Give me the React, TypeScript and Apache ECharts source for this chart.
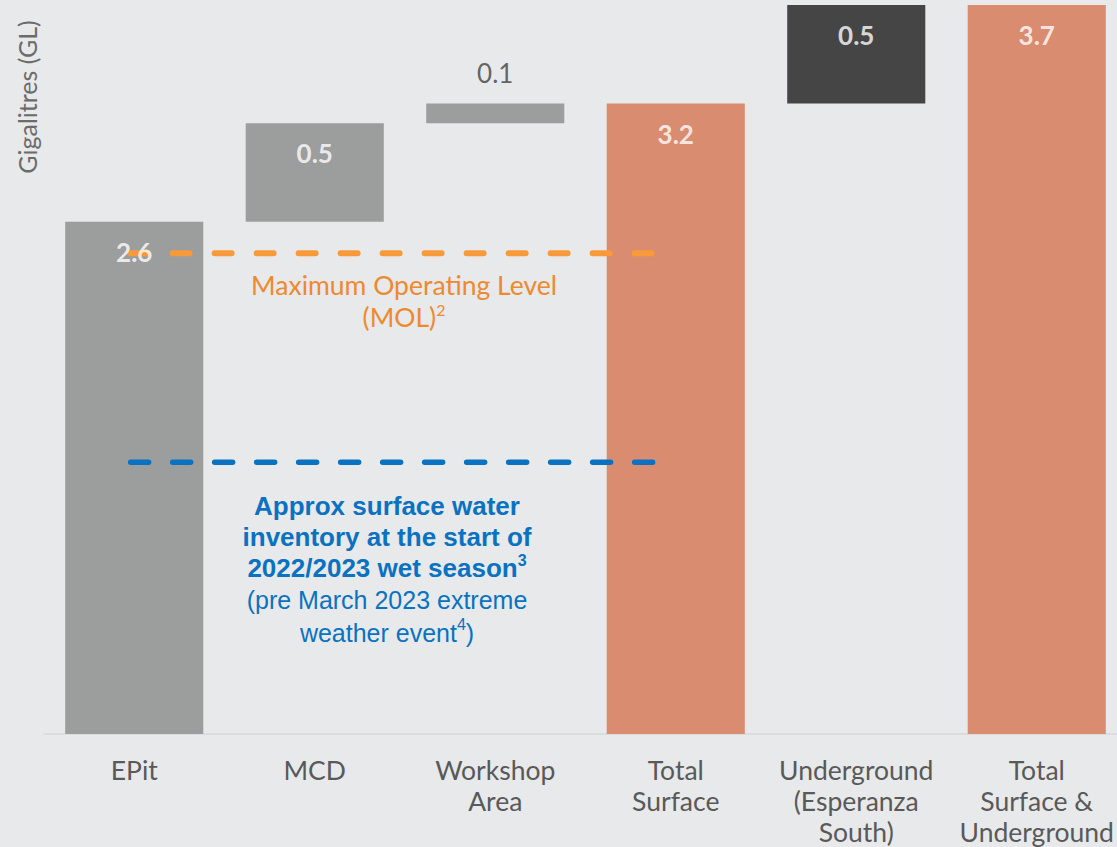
import React, { useEffect, useRef } from "react";
import * as echarts from "echarts";

const categories = [
  "EPit",
  "MCD",
  "Workshop\nArea",
  "Total\nSurface",
  "Underground\n(Esperanza\nSouth)",
  "Total\nSurface &\nUnderground",
];
const values = [2.6, 0.5, 0.1, 3.2, 0.5, 3.7];
const bases = [0, 2.6, 3.1, 0, 3.2, 0];
const barColors = ["#9c9d9d", "#9c9d9d", "#9c9d9d", "#d98c6f", "#454545", "#d98c6f"];
const labelOutside = [false, false, true, false, false, false];
const molLevel = 2.44;
const inventoryLevel = 1.38;
const lineSpan = [0.48, 3.42];

export default function App() {
  const ref = useRef<HTMLDivElement>(null);
  useEffect(() => {
    if (!ref.current) return;
    const chart = echarts.init(ref.current, null, { renderer: "svg" });
    const tops = values.map((v, i) => v + bases[i]);
    chart.setOption({
      animation: false,
      backgroundColor: "#e8e9ea",
      grid: { left: 44, right: 0, top: 0, bottom: 113 },
      xAxis: [
        {
          type: "category",
          data: categories,
          axisLine: { lineStyle: { color: "#d6d7d8", width: 1.5 } },
          axisTick: { show: false },
          axisLabel: {
            color: "#595959",
            fontFamily: "Lato",
            fontSize: 26.5,
            lineHeight: 31,
            margin: 20,
            interval: 0,
          },
        },
        { type: "value", min: 0, max: 6, show: false },
      ],
      yAxis: {
        type: "value",
        min: 0,
        max: 3.726,
        show: false,
      },
      series: [
        {
          type: "bar",
          stack: "w",
          data: bases,
          itemStyle: { color: "transparent" },
          barWidth: "76.5%",
          silent: true,
          z: 2,
        },
        {
          type: "bar",
          stack: "w",
          data: values.map((v, i) => ({ value: v, itemStyle: { color: barColors[i] } })),
          barWidth: "76.5%",
          z: 2,
        },
        {
          type: "line",
          xAxisIndex: 1,
          data: [
            [lineSpan[0], molLevel],
            [lineSpan[1], molLevel],
          ],
          symbol: "none",
          lineStyle: { color: "#f99a3a", width: 6, type: [17, 25], cap: "round" },
          z: 3,
        },
        {
          type: "line",
          xAxisIndex: 1,
          data: [
            [lineSpan[0], inventoryLevel],
            [lineSpan[1], inventoryLevel],
          ],
          symbol: "none",
          lineStyle: { color: "#0a72c1", width: 5.5, type: [18, 24], cap: "round" },
          z: 3,
        },
        {
          type: "scatter",
          symbolSize: 0,
          z: 4,
          data: tops.map((t, i) => ({
            value: [i, t],
            label: labelOutside[i]
              ? { position: "top", distance: 18, color: "#404040", fontWeight: "normal" }
              : { position: "bottom", distance: 17, color: "#ffffff", fontWeight: "bold" },
          })),
          label: {
            show: true,
            fontFamily: "Lato",
            fontSize: 26,
            formatter: (p: any) => values[p.dataIndex].toFixed(1),
          },
        },
      ],
      graphic: [
        {
          type: "text",
          x: 27,
          y: 97,
          rotation: Math.PI / 2,
          style: {
            text: "Gigalitres (GL)",
            fontFamily: "Lato",
            fontSize: 25,
            fill: "#6b6b6b",
            align: "center",
            verticalAlign: "middle",
          },
        },
        {
          type: "text",
          x: 404,
          y: 269,
          style: {
            text: "{o|Maximum Operating Level}\n{o|(MOL)}{os|2}",
            align: "center",
            verticalAlign: "top",
            rich: {
              o: { fontFamily: "Lato", fontSize: 26.5, lineHeight: 32, fill: "#ee8a2e" },
              os: { fontFamily: "Lato", fontSize: 16, lineHeight: 22, verticalAlign: "top", fill: "#ee8a2e" },
            },
          },
        },
        {
          type: "text",
          x: 387,
          y: 490,
          style: {
            text:
              "{b|Approx surface water}\n{b|inventory at the start of}\n{b|2022/2023 wet season}{bs|3}\n{n|(pre March 2023 extreme}\n{n|weather event}{ns|4}{n|)}",
            align: "center",
            verticalAlign: "top",
            rich: {
              b: { fontFamily: "Liberation Sans", fontWeight: "bold", fontSize: 26, lineHeight: 31, fill: "#0a72c1" },
              bs: { fontFamily: "Liberation Sans", fontWeight: "bold", fontSize: 16, lineHeight: 22, verticalAlign: "top", fill: "#0a72c1" },
              n: { fontFamily: "Liberation Sans", fontSize: 25, lineHeight: 33, fill: "#0a72c1" },
              ns: { fontFamily: "Liberation Sans", fontSize: 16, lineHeight: 22, verticalAlign: "top", fill: "#0a72c1" },
            },
          },
        },
      ],
    });
    return () => chart.dispose();
  }, []);
  return (
    <div style={{ position: "absolute", left: 0, top: 0, width: 1117, height: 847, overflow: "hidden", background: "#e8e9ea" }}>
      <div ref={ref} style={{ width: 1127, height: 847 }} />
    </div>
  );
}
